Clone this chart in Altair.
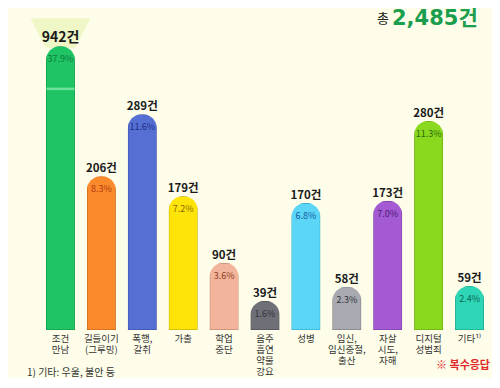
import altair as alt
import pandas as pd

categories = ["조건\n만남", "길들이기\n(그루밍)", "폭행,\n갈취", "가출", "학업\n중단",
              "음주\n흡연\n약물\n강요", "성병", "임신,\n임신중절,\n출산", "자살\n시도,\n자해",
              "디지털\n성범죄", "기타¹⁾"]
counts = [942, 206, 289, 179, 90, 39, 170, 58, 173, 280, 59]
percents = [37.9, 8.3, 11.6, 7.2, 3.6, 1.6, 6.8, 2.3, 7.0, 11.3, 2.4]
bar_colors = ["#1fc465", "#fb8a2c", "#5570d2", "#ffe40a", "#f2b49a", "#6f6f77",
              "#5bd6f7", "#a9a9b1", "#a35ad2", "#8bd91f", "#2fd6b6"]
stroke_colors = ["#129048", "#b85f14", "#3548a0", "#b49a00", "#b07860", "#48484e",
                 "#2a9cc0", "#707078", "#70389a", "#5e9a10", "#1a9a80"]
pct_colors = ["#0e7a3c", "#b03a10", "#1c2e8a", "#8a6a00", "#8a4020", "#333338",
              "#1a5aa0", "#333338", "#4a1a7a", "#2a6a0a", "#0a6a5a"]
total_label = "2,485건"
axis_break = 380      # the first bar is drawn with a broken axis
break_mark_value = 323
footnote = "1) 기타: 우울, 불안 등"
note_multi = "※ 복수응답"

df = pd.DataFrame({
    "cat": categories,
    "count": counts,
    "pct": percents,
    "fill": bar_colors,
    "stroke": stroke_colors,
    "pcol": pct_colors,
})
df["disp"] = df["count"].clip(upper=axis_break)
df["count_label"] = df["count"].astype(str) + "건"
df["pct_label"] = df["pct"].map(lambda v: f"{v:.1f}%")
df["big"] = df["count"] > axis_break

FONT = "Noto Sans CJK KR"
PLOT_H = 321

x_scale = alt.Scale(domain=categories, paddingInner=0.29, paddingOuter=0.145)
x_enc = alt.X("cat:N", sort=categories, scale=x_scale, axis=None)
y_scale = alt.Scale(domain=[0, 430], nice=False, zero=False)
y_enc = alt.Y("disp:Q", scale=y_scale, axis=None)

base = alt.Chart(df)

glow = base.transform_filter("datum.big").mark_point(
    shape="M -1 -0.5 L 1 -0.5 L 0.48 0.5 L -0.48 0.5 Z",
    filled=True, size=3600, color="#eef6c2", opacity=0.9, yOffset=-13, strokeWidth=0
).encode(x=x_enc, y=y_enc)

bars = base.mark_bar(size=29, cornerRadiusTopLeft=14, cornerRadiusTopRight=14,
                     strokeWidth=1.2).encode(
    x=x_enc, y=y_enc,
    fill=alt.Fill("fill:N", scale=None),
    stroke=alt.Stroke("stroke:N", scale=None),
)

break_df = pd.DataFrame({"cat": [categories[0]], "v": [break_mark_value]})
brk = alt.Chart(break_df).mark_tick(size=28, thickness=2.5, color="#8ef0b4").encode(
    x=x_enc,
    y=alt.Y("v:Q", scale=y_scale, axis=None),
)

count_text = base.mark_text(baseline="alphabetic", dy=-4, fontWeight="bold",
                            font=FONT, color="#1a1a1a").encode(
    x=x_enc, y=y_enc, text="count_label:N",
    size=alt.condition("datum.big", alt.value(14), alt.value(11.5)),
)

pct_text = base.mark_text(baseline="middle", dy=13, fontSize=9, font=FONT).encode(
    x=x_enc, y=y_enc, text="pct_label:N",
    color=alt.Color("pcol:N", scale=None),
)

cat_text = base.mark_text(align="center", baseline="top", lineBreak="\n",
                          lineHeight=11, fontSize=9.5, font=FONT,
                          color="#333333", dy=4).encode(
    x=x_enc, y=alt.Y("zero:Q", scale=y_scale, axis=None), text="cat:N",
).transform_calculate(zero="0")

ann_df = pd.DataFrame({"t": ["총"]})
tot1 = alt.Chart(ann_df).mark_text(align="right", baseline="middle", fontSize=13,
                                   font=FONT, color="#222222").encode(
    x=alt.value(349), y=alt.value(10), text=alt.value("총"))
tot2 = alt.Chart(ann_df).mark_text(align="left", baseline="middle", fontSize=21,
                                   fontWeight="bold", font="DejaVu Sans, " + FONT,
                                   color="#1a9e4e").encode(
    x=alt.value(352), y=alt.value(10), text=alt.value(total_label))
foot = alt.Chart(ann_df).mark_text(align="left", baseline="middle", fontSize=10,
                                   font=FONT, color="#333333").encode(
    x=alt.value(-13), y=alt.value(364), text=alt.value(footnote))
multi = alt.Chart(ann_df).mark_text(align="right", baseline="middle", fontSize=11,
                                    fontWeight="bold", font=FONT, color="#e02a2a").encode(
    x=alt.value(450), y=alt.value(357), text=alt.value(note_multi))

chart = alt.layer(glow, bars, brk, count_text, pct_text, cat_text,
                  tot1, tot2, foot, multi).properties(
    width=450, height=PLOT_H, background="#fdfde9",
    padding={"left": 19, "top": 0, "right": 2, "bottom": 0},
).configure_view(stroke=None)

chart.save("out.html", embed_options={"renderer": "svg", "actions": False})
